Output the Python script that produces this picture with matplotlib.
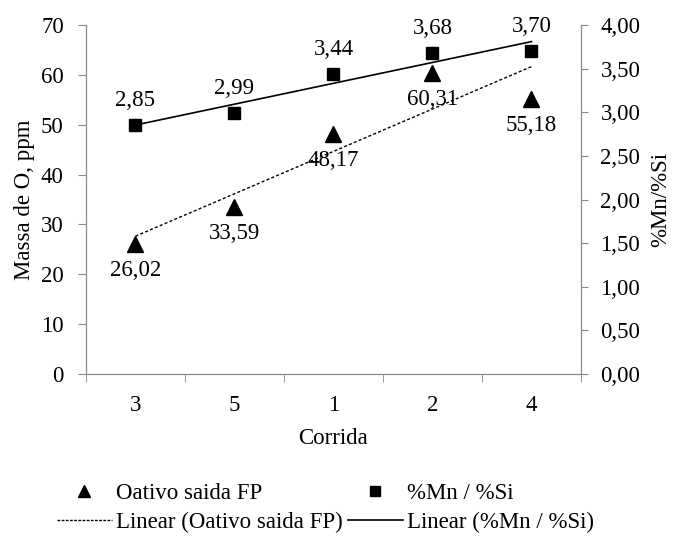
import matplotlib
matplotlib.use("Agg")
import matplotlib.pyplot as plt
from matplotlib.lines import Line2D
import numpy as np

plt.rcParams['font.family'] = ['Liberation Serif', 'DejaVu Serif']

categories = ["3", "5", "1", "2", "4"]
oxygen = [26.02, 33.59, 48.17, 60.31, 55.18]
mnsi = [2.85, 2.99, 3.44, 3.68, 3.70]
oxygen_labels = ["26,02", "33,59", "48,17", "60,31", "55,18"]
mnsi_labels = ["2,85", "2,99", "3,44", "3,68", "3,70"]
right_ticks = [0.0, 0.5, 1.0, 1.5, 2.0, 2.5, 3.0, 3.5, 4.0]
right_ticklabels = ["0,00", "0,50", "1,00", "1,50", "2,00", "2,50", "3,00", "3,50", "4,00"]

FS = 16.5
gray = "#898989"

fig = plt.figure(figsize=(6.76, 5.36), dpi=100)
ax = fig.add_axes([0.1272, 0.3022, 0.7322, 0.6511])
ax2 = ax.twinx()

x = np.arange(len(categories))

# trendlines (least squares, like Excel linear trendline)
p1 = np.polyfit(x, oxygen, 1)
p2 = np.polyfit(x, mnsi, 1)
ax.plot(x, np.polyval(p1, x), linestyle=(0, (2.2, 1.6)), color="black", lw=1.0)
ax2.plot(x, np.polyval(p2, x), linestyle="-", color="black", lw=1.2)

ax.plot(x, oxygen, linestyle="none", marker="^", color="black", ms=11)
ax2.plot(x, mnsi, linestyle="none", marker="s", color="black", ms=8.5)

for xi, v, lab in zip(x, oxygen, oxygen_labels):
    ax.annotate(lab, (xi, v), xytext=(0, -11.5), textcoords="offset points",
                ha="center", va="top", fontsize=FS)
for xi, v, lab in zip(x, mnsi, mnsi_labels):
    ax2.annotate(lab, (xi, v), xytext=(0, 10), textcoords="offset points",
                 ha="center", va="bottom", fontsize=FS)

ax.set_xlim(-0.5, len(categories) - 0.5)
ax.set_ylim(0, 70)
ax2.set_ylim(0, 4)
ax.set_yticks(np.arange(0, 71, 10))
ax2.set_yticks(right_ticks)
ax2.set_yticklabels(right_ticklabels)

ax.set_xticks(x)
ax.set_xticklabels(categories)
ax.set_xticks(np.arange(-0.5, len(categories)), minor=True)
ax.tick_params(axis="x", which="major", length=0, pad=15, labelsize=FS)
ax.tick_params(axis="x", which="minor", length=6, color=gray, direction="out")
ax.tick_params(axis="y", length=6, color=gray, labelsize=FS, pad=10)
ax2.tick_params(axis="y", length=5, color=gray, labelsize=FS, pad=9)

for a in (ax, ax2):
    a.spines["top"].set_visible(False)
    for s in ("left", "right", "bottom"):
        a.spines[s].set_color(gray)

ax.set_xlabel("Corrida", fontsize=FS, labelpad=9)
ax.set_ylabel("Massa de O, ppm", fontsize=FS, labelpad=4)
ax2.set_ylabel("%Mn/%Si", fontsize=FS, labelpad=7)

handles = [
    Line2D([], [], linestyle="none", marker="^", color="black", ms=8),
    Line2D([], [], linestyle=(0, (2, 1)), color="black", lw=1.0),
    Line2D([], [], linestyle="none", marker="s", color="black", ms=7),
    Line2D([], [], linestyle="-", color="black", lw=1.2),
]
labels = ["Oativo saida FP", "Linear (Oativo saida FP)", "%Mn / %Si", "Linear (%Mn / %Si)"]
fig.legend(handles, labels, ncol=2, loc="center left", bbox_to_anchor=(0.084, 0.052),
           frameon=False, fontsize=FS, handlelength=2.4, handletextpad=0.18,
           columnspacing=0.22, labelspacing=0.35, borderpad=0, borderaxespad=0)

fig.savefig("out.png", dpi=100)
